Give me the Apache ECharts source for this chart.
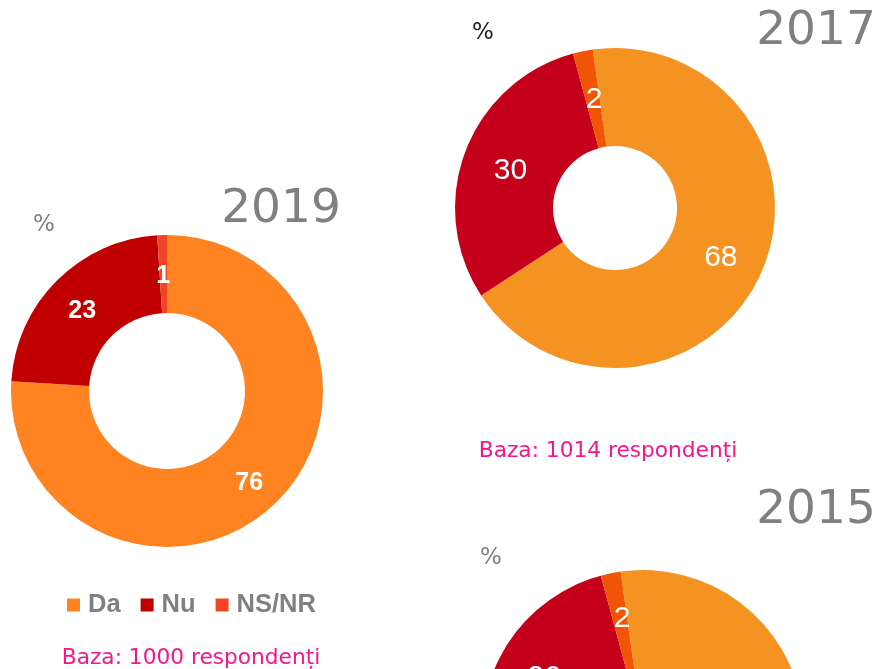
<!DOCTYPE html>
<html>
<head>
<meta charset="utf-8">
<script src="https://cdn.jsdelivr.net/npm/echarts@6/dist/echarts.min.js"></script>
<style>
html,body{margin:0;padding:0;background:#fff;}
#chart{width:879px;height:669px;}
</style>
</head>
<body>
<div id="chart"></div>
<script>
const categories = ['Da', 'Nu', 'NS/NR'];
const years = ['2019', '2017', '2015'];
const values2019 = [76, 23, 1];
const values2017 = [68, 30, 2];
const values2015 = [72, 26, 2];
const bases = ['Baza: 1000 respondenți', 'Baza: 1014 respondenți'];

const colors2019 = ['#FF8321', '#C00000', '#F04524'];
const colorsOld = ['#F59322', '#C4001A', '#F05505'];

function mkData(vals, cols) {
  return categories.map((c, i) => ({ name: c, value: vals[i], itemStyle: { color: cols[i] } }));
}

const chart = echarts.init(document.getElementById('chart'), null, { renderer: 'canvas' });

function txt(text, x, y, extra) {
  return {
    type: 'text',
    style: Object.assign({ text: text, x: x, y: y, align: 'center', verticalAlign: 'middle' }, extra)
  };
}
const greyTitle = { fill: '#808080', fontFamily: 'DejaVu Sans', fontSize: 47 };
const pctStyle = { fontFamily: 'DejaVu Sans', fontSize: 23 };
const baseStyle = { fill: '#F7158F', fontFamily: 'DejaVu Sans', fontSize: 21.7 };

chart.setOption({
  animation: false,
  backgroundColor: '#ffffff',
  legend: {
    left: 62,
    top: 587,
    itemWidth: 13,
    itemHeight: 13,
    itemGap: 20,
    icon: 'rect',
    selectedMode: false,
    textStyle: { color: '#808080', fontFamily: 'Liberation Sans', fontWeight: 'bold', fontSize: 25.5, padding: [0, 0, 0, 3] },
    data: categories.map((c, i) => ({ name: c, itemStyle: { color: colors2019[i] } }))
  },
  graphic: [
    txt(years[0], 281, 210, greyTitle),
    txt(years[1], 816, 32, greyTitle),
    txt(years[2], 816, 511, greyTitle),
    txt('%', 44, 225, Object.assign({ fill: '#808080' }, pctStyle)),
    txt('%', 483, 33, Object.assign({ fill: '#222222' }, pctStyle)),
    txt('%', 491, 558, Object.assign({ fill: '#808080' }, pctStyle)),
    txt(bases[0], 191, 658, baseStyle),
    txt(bases[1], 608, 451, baseStyle)
  ],
  series: [
    {
      type: 'pie',
      name: years[0],
      center: [167, 391],
      radius: [78, 156],
      startAngle: 90,
      clockwise: true,
      silent: true,
      label: {
        show: true, position: 'inside', formatter: '{c}', offset: [0, 5],
        color: '#ffffff', fontFamily: 'Liberation Sans', fontWeight: 'bold', fontSize: 25
      },
      labelLine: { show: false },
      data: mkData(values2019, colors2019)
    },
    {
      type: 'pie',
      name: years[1],
      center: [615, 208],
      radius: [62, 160],
      startAngle: 98,
      clockwise: true,
      silent: true,
      label: {
        show: true, position: 'inside', formatter: '{c}', offset: [2, 3],
        color: '#ffffff', fontFamily: 'Liberation Sans', fontSize: 30
      },
      labelLine: { show: false },
      data: mkData(values2017, colorsOld)
    },
    {
      type: 'pie',
      name: years[2],
      center: [643, 731],
      radius: [62, 161],
      startAngle: 98,
      clockwise: true,
      silent: true,
      label: {
        show: true, position: 'inside', formatter: '{c}', offset: [2, 0],
        color: '#ffffff', fontFamily: 'Liberation Sans', fontSize: 30
      },
      labelLine: { show: false },
      data: mkData(values2015, colorsOld)
    }
  ]
});
</script>
</body>
</html>
